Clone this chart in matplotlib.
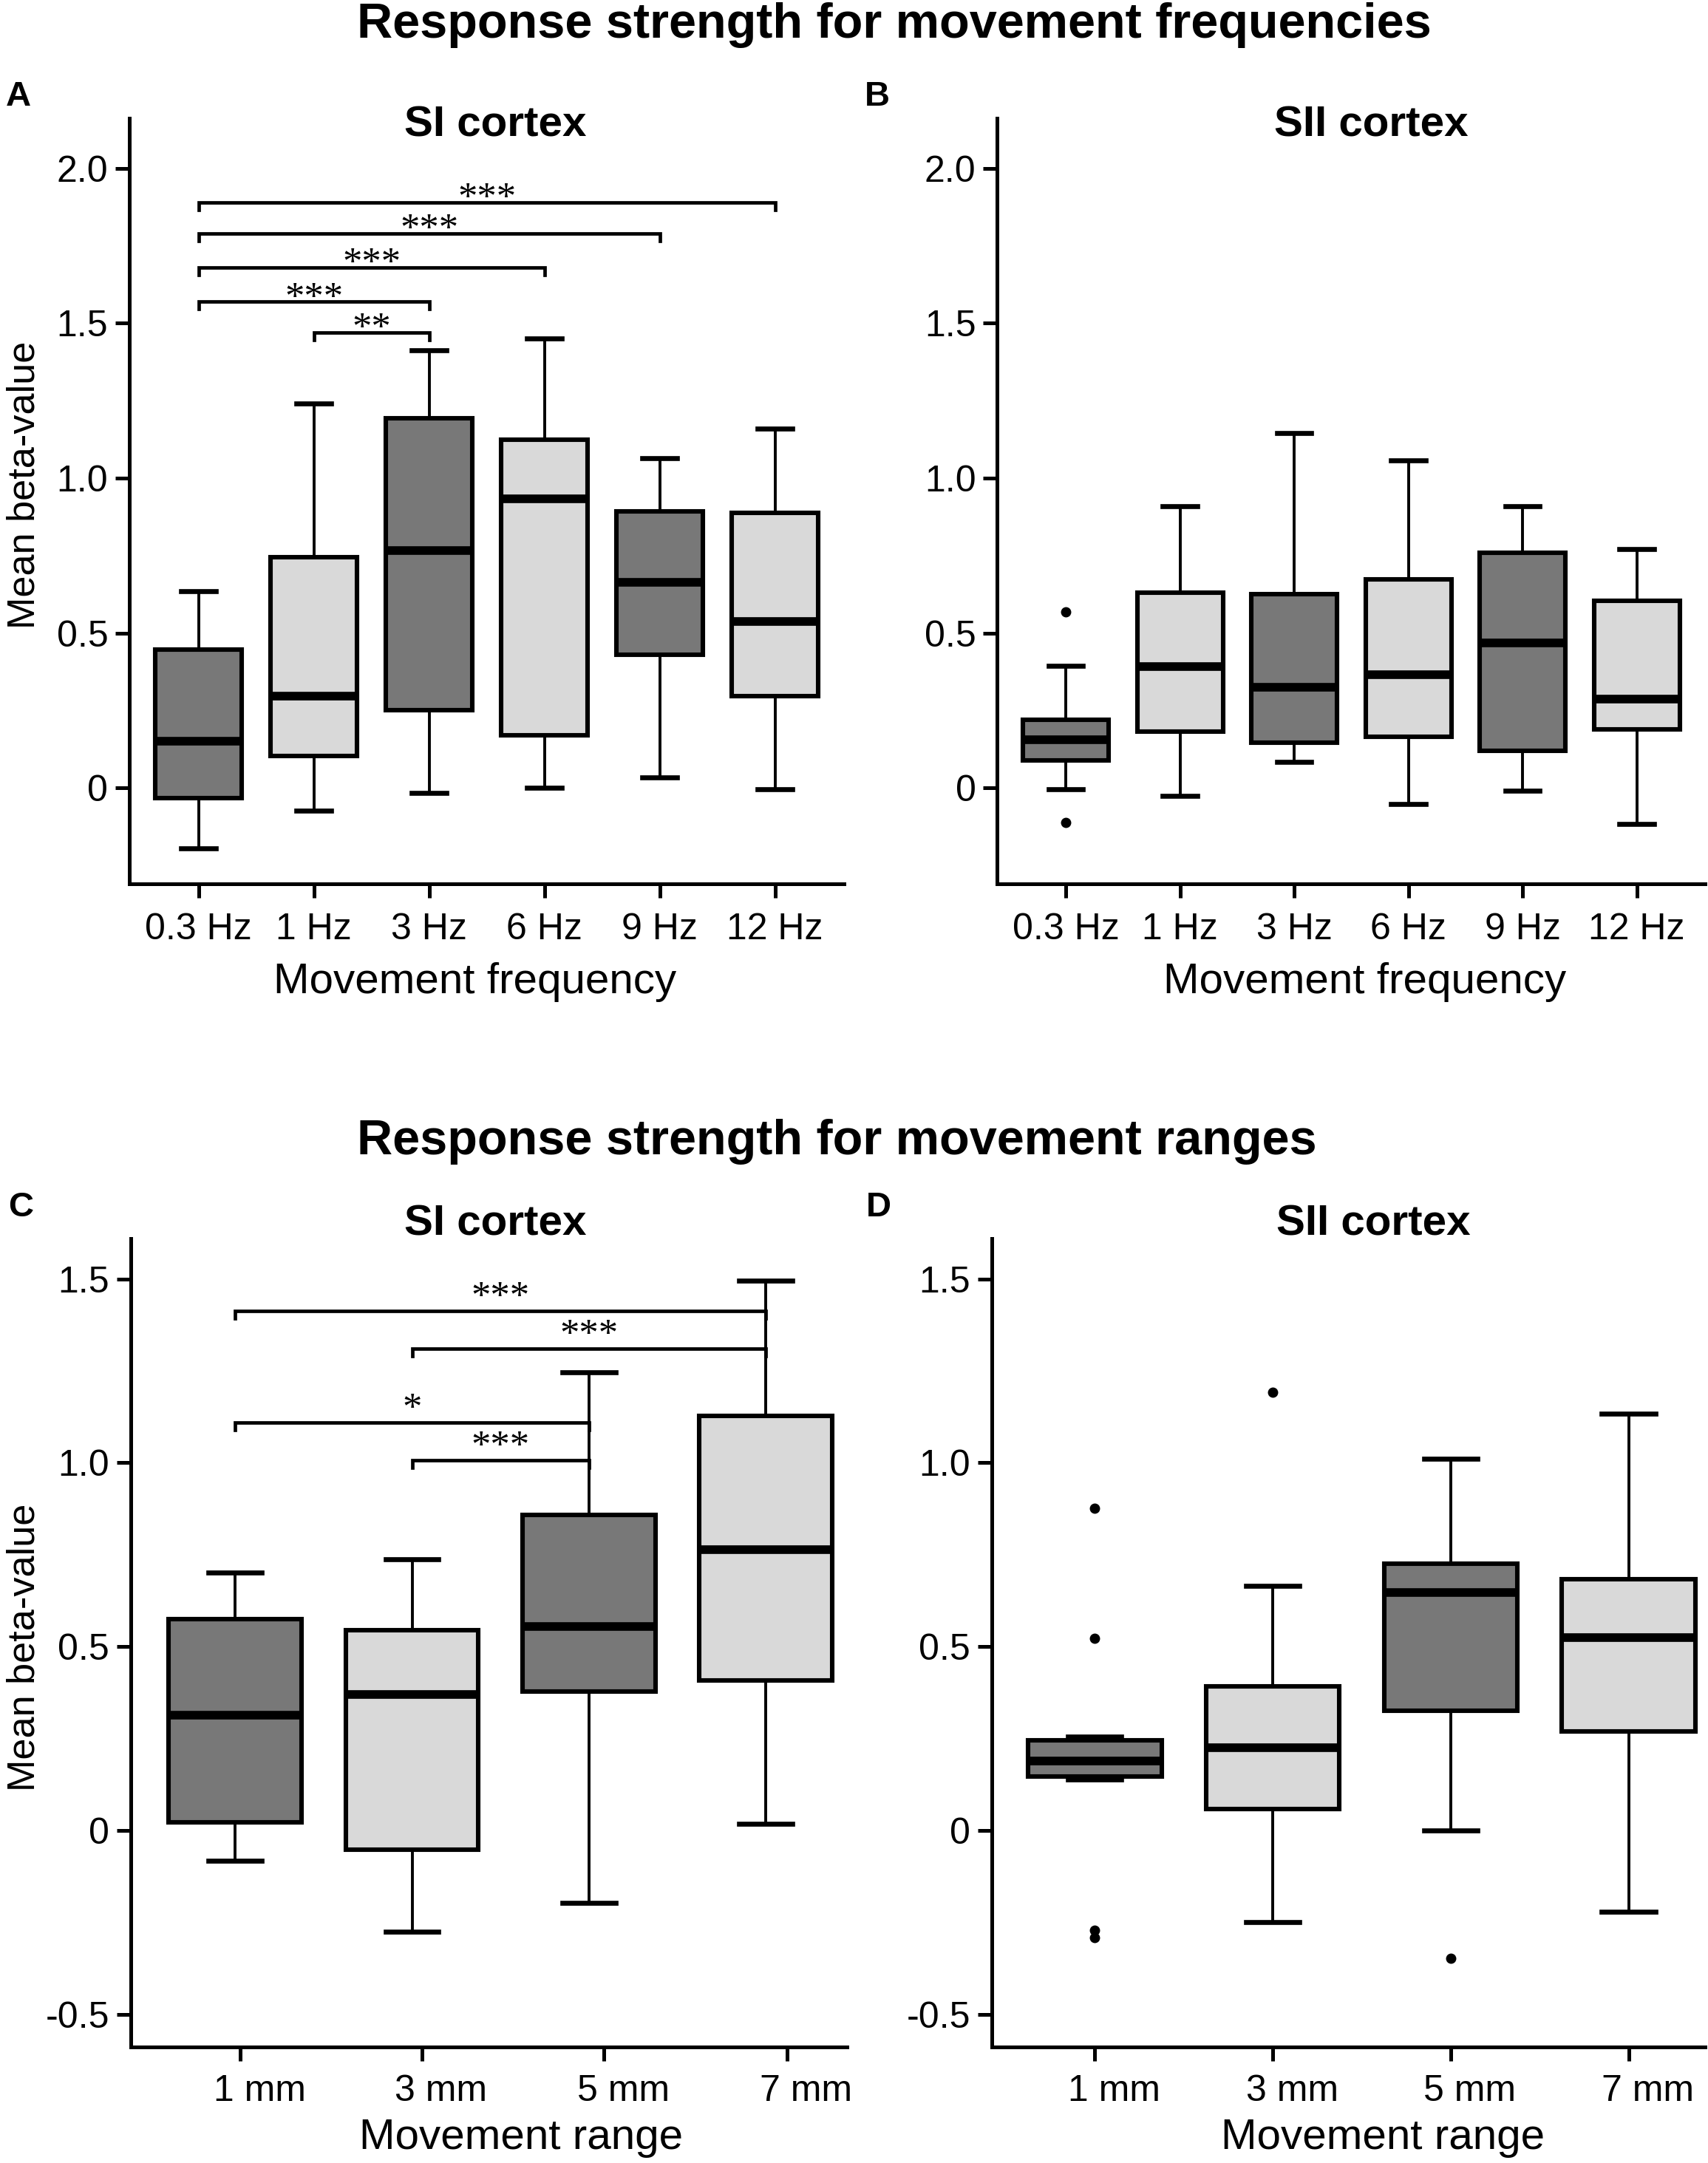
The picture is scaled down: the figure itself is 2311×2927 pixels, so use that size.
import matplotlib
matplotlib.use('Agg')
import matplotlib.pyplot as plt
import matplotlib.transforms as mtransforms

plt.rcParams['font.family'] = ['Liberation Sans', 'DejaVu Sans']

freq_labels = ['0.3 Hz', '1 Hz', '3 Hz', '6 Hz', '9 Hz', '12 Hz']
range_labels = ['1 mm', '3 mm', '5 mm', '7 mm']

# box statistics (mean beta-values)
si_freq_whislo = [-0.196, -0.073, -0.016, 0.0, 0.033, -0.005]
si_freq_q1 = [-0.033, 0.102, 0.25, 0.17, 0.429, 0.296]
si_freq_med = [0.15, 0.296, 0.765, 0.932, 0.664, 0.536]
si_freq_q3 = [0.447, 0.745, 1.192, 1.124, 0.893, 0.888]
si_freq_whishi = [0.634, 1.24, 1.413, 1.45, 1.063, 1.16]
si_freq_fliers = [[], [], [], [], [], []]

sii_freq_whislo = [-0.003, -0.025, 0.084, -0.051, -0.008, -0.117]
sii_freq_q1 = [0.089, 0.183, 0.145, 0.166, 0.121, 0.188]
sii_freq_med = [0.156, 0.391, 0.324, 0.365, 0.469, 0.287]
sii_freq_q3 = [0.220, 0.631, 0.625, 0.672, 0.76, 0.604]
sii_freq_whishi = [0.395, 0.909, 1.146, 1.058, 0.909, 0.77]
sii_freq_fliers = [[0.567, -0.112], [], [], [], [], []]

si_range_whislo = [-0.082, -0.276, -0.198, 0.017]
si_range_q1 = [0.021, -0.052, 0.377, 0.407]
si_range_med = [0.313, 0.369, 0.555, 0.764]
si_range_q3 = [0.575, 0.545, 0.858, 1.127]
si_range_whishi = [0.702, 0.737, 1.247, 1.495]
si_range_fliers = [[], [], [], []]

sii_range_whislo = [0.138, -0.25, 0.0, -0.221]
sii_range_q1 = [0.147, 0.059, 0.325, 0.269]
sii_range_med = [0.188, 0.224, 0.647, 0.524]
sii_range_q3 = [0.245, 0.392, 0.725, 0.684]
sii_range_whishi = [0.255, 0.666, 1.011, 1.133]
sii_range_fliers = [[0.876, 0.523, -0.271, -0.291], [1.192], [-0.347], []]

# significance brackets (pair of conditions, bracket height, label)
si_freq_pairs = [(0, 5), (0, 4), (0, 3), (0, 2), (1, 2)]
si_freq_heights = [1.89, 1.79, 1.68, 1.57, 1.47]
si_freq_stars = ['***', '***', '***', '***', '**']

si_range_pairs = [(0, 3), (1, 3), (0, 2), (1, 2)]
si_range_heights = [1.413, 1.311, 1.110, 1.007]
si_range_stars = ['***', '***', '*', '***']

DARK = '#787878'
LIGHT = '#d9d9d9'


def draw_box(ax, whislo, q1, med, q3, whishi, fliers):
    stats = []
    for lo, a, m, b, hi, fl in zip(whislo, q1, med, q3, whishi, fliers):
        stats.append(dict(whislo=lo, q1=a, med=m, q3=b, whishi=hi, fliers=fl))
    pos = list(range(1, len(stats) + 1))
    bp = ax.bxp(stats, positions=pos, widths=0.75, capwidths=0.3,
                patch_artist=True, manage_ticks=False,
                boxprops=dict(edgecolor='black', linewidth=2.2),
                medianprops=dict(color='black', linewidth=4.2, solid_capstyle='butt'),
                whiskerprops=dict(color='black', linewidth=1.4),
                capprops=dict(color='black', linewidth=2.4),
                flierprops=dict(marker='o', markerfacecolor='black',
                                markeredgecolor='black', markersize=4))
    for i, patch in enumerate(bp['boxes']):
        patch.set_facecolor(DARK if i % 2 == 0 else LIGHT)
    return pos


def style_axes(ax, pos, xlabels, xlim, ylim, yticks, yticklabels, xpad,
               tick_shift=None, label_shift=0):
    ax.set_xlim(*xlim)
    ax.set_ylim(*ylim)
    for s in ['top', 'right']:
        ax.spines[s].set_visible(False)
    for s in ['left', 'bottom']:
        ax.spines[s].set_linewidth(1.8)
    ticks = pos if tick_shift is None else [p + t for p, t in zip(pos, tick_shift)]
    ax.set_xticks(ticks)
    ax.set_xticklabels(xlabels, fontsize=18)
    ax.set_yticks(yticks)
    ax.set_yticklabels(yticklabels, fontsize=18)
    ax.tick_params(axis='both', length=7, width=1.8, color='black')
    ax.tick_params(axis='y', pad=3.4)
    ax.tick_params(axis='x', pad=xpad)
    if label_shift:
        off = mtransforms.ScaledTranslation(label_shift / 72, 0, ax.figure.dpi_scale_trans)
        for lab in ax.get_xticklabels():
            lab.set_transform(lab.get_transform() + off)


def draw_brackets(ax, pos, pairs, heights, stars, drop, star_off):
    for (i, j), h, s in zip(pairs, heights, stars):
        x1, x2 = pos[i], pos[j]
        ax.plot([x1, x1, x2, x2], [h - drop, h, h, h - drop], color='black',
                linewidth=1.7, solid_joinstyle='miter')
        ax.annotate(s, xy=((x1 + x2) / 2, h), xytext=(0, star_off),
                    textcoords='offset points', ha='center', va='baseline',
                    fontsize=19, family=['Liberation Serif', 'DejaVu Serif'])


fig = plt.figure(figsize=(11.555, 14.635), dpi=200)

axA = fig.add_axes([0.0758, 0.5913, 0.4185, 0.3539])
axB = fig.add_axes([0.5839, 0.5913, 0.4145, 0.3539])
axC = fig.add_axes([0.0766, 0.0535, 0.4194, 0.3739])
axD = fig.add_axes([0.5806, 0.0535, 0.4177, 0.3739])

yt_f = [0, 0.5, 1.0, 1.5, 2.0]
ytl_f = ['0', '0.5', '1.0', '1.5', '2.0']
yt_r = [-0.5, 0, 0.5, 1.0, 1.5]
ytl_r = ['-0.5', '0', '0.5', '1.0', '1.5']

posA = draw_box(axA, si_freq_whislo, si_freq_q1, si_freq_med, si_freq_q3,
                si_freq_whishi, si_freq_fliers)
style_axes(axA, posA, freq_labels, (0.4, 6.6), (-0.31, 2.16), yt_f, ytl_f, 7)
draw_brackets(axA, posA, si_freq_pairs, si_freq_heights, si_freq_stars, 0.024, -3.5)

posB = draw_box(axB, sii_freq_whislo, sii_freq_q1, sii_freq_med, sii_freq_q3,
                sii_freq_whishi, sii_freq_fliers)
style_axes(axB, posB, freq_labels, (0.4, 6.6), (-0.31, 2.16), yt_f, ytl_f, 7)

posC = draw_box(axC, si_range_whislo, si_range_q1, si_range_med, si_range_q3,
                si_range_whishi, si_range_fliers)
style_axes(axC, posC, range_labels, (0.41, 4.46), (-0.59, 1.61), yt_r, ytl_r, 6,
           tick_shift=[0.03, 0.055, 0.085, 0.12], label_shift=9.4)
draw_brackets(axC, posC, si_range_pairs, si_range_heights, si_range_stars, 0.02, 1.5)

posD = draw_box(axD, sii_range_whislo, sii_range_q1, sii_range_med, sii_range_q3,
                sii_range_whishi, sii_range_fliers)
style_axes(axD, posD, range_labels, (0.42, 4.43), (-0.59, 1.61), yt_r, ytl_r, 6,
           label_shift=9.4)

# headings
fig.text(0.5234, 0.9825, 'Response strength for movement frequencies',
         ha='center', va='baseline', fontsize=24, fontweight='bold')
fig.text(0.490, 0.4662, 'Response strength for movement ranges',
         ha='center', va='baseline', fontsize=24, fontweight='bold')

for x, y, t in [(0.29, 0.9369, 'SI cortex'), (0.803, 0.9369, 'SII cortex'),
                (0.29, 0.4289, 'SI cortex'), (0.804, 0.4289, 'SII cortex')]:
    fig.text(x, y, t, ha='center', va='baseline', fontsize=21, fontweight='bold')

for x, y, t in [(0.0034, 0.9512, 'A'), (0.5063, 0.9512, 'B'),
                (0.005, 0.4376, 'C'), (0.507, 0.4376, 'D')]:
    fig.text(x, y, t, ha='left', va='baseline', fontsize=17, fontweight='bold')

for y in [0.7758, 0.2382]:
    fig.text(0.0035, y, 'Mean beta-value', rotation=90, ha='left', va='center',
             fontsize=18.8)

for x, y, t in [(0.278, 0.5408, 'Movement frequency'), (0.799, 0.5408, 'Movement frequency'),
                (0.305, 0.0065, 'Movement range'), (0.8095, 0.0065, 'Movement range')]:
    fig.text(x, y, t, ha='center', va='baseline', fontsize=21)

fig.savefig('out.png', dpi=200)
